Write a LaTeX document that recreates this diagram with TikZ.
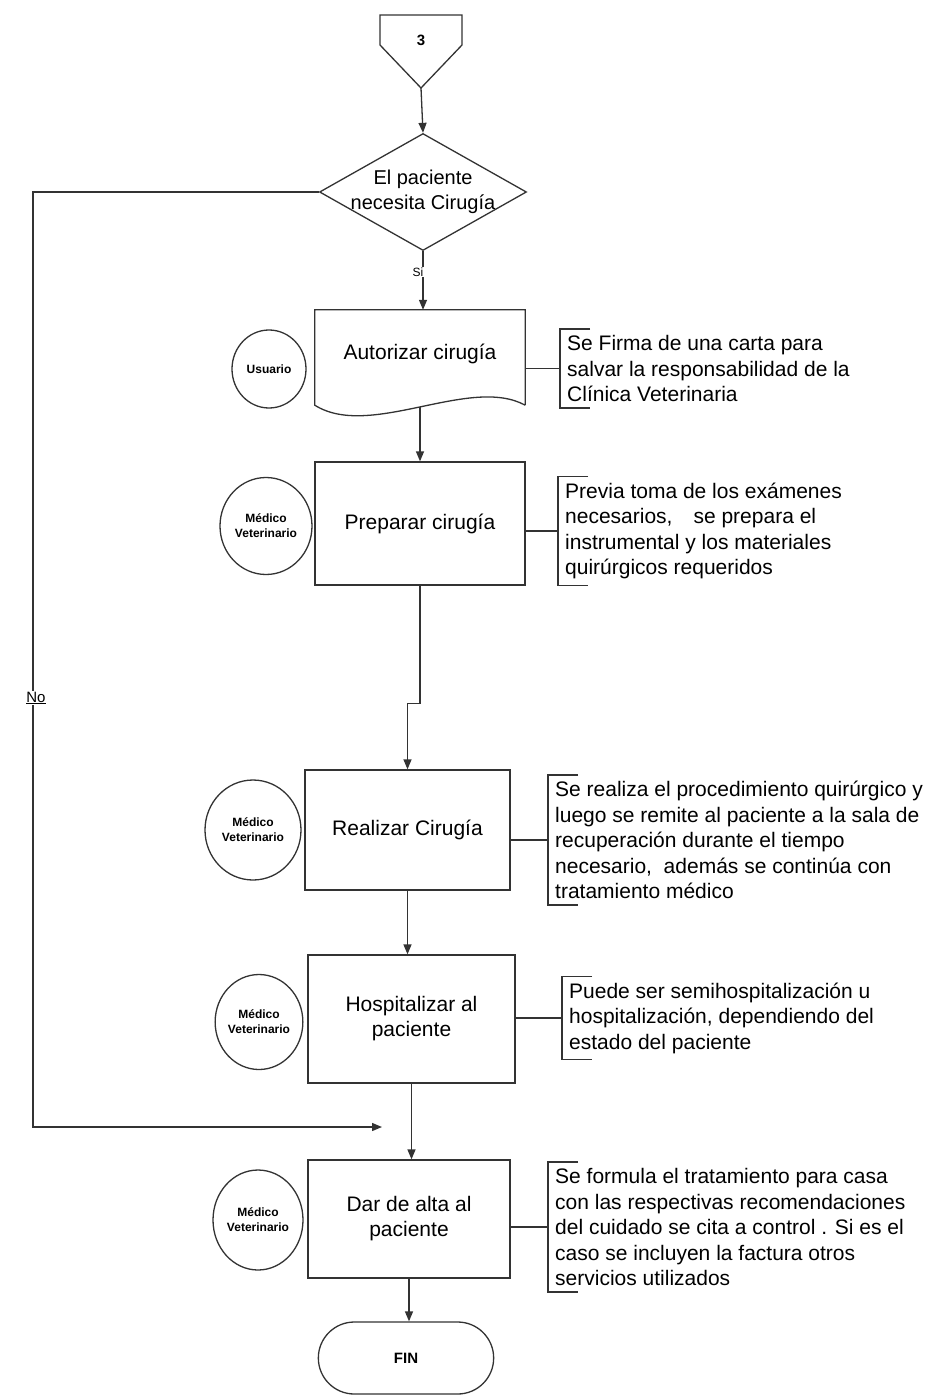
\documentclass[tikz,border=0pt]{standalone}
\usepackage{fontspec}
\setmainfont{Liberation Sans}
\usetikzlibrary{shapes.geometric,shapes.misc,arrows.meta}
\begin{document}
\begin{tikzpicture}[x=1pt,y=-1pt,
  line/.style={draw=black!80, line width=1.3pt},
  arr/.style={line, -{Triangle[length=10pt,width=8pt]}},
  proc/.style={rectangle, draw=black!80, line width=1.3pt, font=\fontsize{21}{25}\selectfont, align=center, inner sep=2pt},
  actor/.style={ellipse, draw=black!80, line width=1.3pt, font=\bfseries\fontsize{12}{15}\selectfont, align=center, inner sep=0pt},
  note/.style={font=\fontsize{21}{25.5}\selectfont, align=left, anchor=west, inner xsep=7pt, inner ysep=6pt},
  lbl/.style={fill=white, inner sep=1pt}]
\fill[white] (0,0) rectangle (941,1397);
\useasboundingbox (0,0) rectangle (941,1397);

% off-page connector
\draw[line] (380,15) -- (462,15) -- (462,45) -- (421,88) -- (380,45) -- cycle;
\node[font=\bfseries\fontsize{15}{15}\selectfont] (c3) at (421,40) {3};
\coordinate (c3tip) at (421,88);

% decision
\node[diamond, line, minimum width=207pt, minimum height=117pt, inner sep=0pt] (dec) at (423,192) {};
\node[font=\fontsize{20}{25}\selectfont, align=center] (dectext) at (dec.center) {El paciente\\necesita Cirugía};

% document shape
\node[minimum width=210pt, minimum height=95pt, inner sep=0pt] (auth) at (420,357.5) {};
\draw[line] (auth.south east) -- (auth.north east) -- (auth.north west) -- (auth.south west)
  .. controls (370,440) and (470,375) .. (auth.south east);
\node[font=\fontsize{21}{25}\selectfont] (authtext) at (420,354) {Autorizar cirugía};
\coordinate (authB) at (420,407);

% processes
\node[proc, minimum width=210pt, minimum height=123pt] (prep) at (420,523.5) {Preparar cirugía};
\node[proc, minimum width=205pt, minimum height=120pt] (real) at (407.5,830) {Realizar Cirugía};
\node[proc, minimum width=207pt, minimum height=128pt] (hosp) at (411.5,1019) {Hospitalizar al\\paciente};
\node[proc, minimum width=202pt, minimum height=118pt] (dar) at (409,1219) {Dar de alta al\\paciente};
\node[rounded rectangle, line, minimum width=182pt, minimum height=72pt, font=\bfseries\fontsize{15}{15}\selectfont] (fin) at (406,1358) {FIN};

% actors
\node[actor, minimum width=74pt, minimum height=78pt] (a1) at (269,369) {Usuario};
\node[actor, minimum width=92pt, minimum height=97pt] (a2) at (266,526) {Médico\\Veterinario};
\node[actor, minimum width=96pt, minimum height=100pt] (a3) at (253,830) {Médico\\Veterinario};
\node[actor, minimum width=86pt, minimum height=95pt] (a4) at (259,1022) {Médico\\Veterinario};
\node[actor, minimum width=90pt, minimum height=100pt] (a5) at (258,1220) {Médico\\Veterinario};

% notes
\node[note] (n1) at (560,368.5) {Se Firma de una carta para\\salvar la responsabilidad de la\\Clínica Veterinaria};
\node[note] (n2) at (558,531) {Previa toma de los exámenes\\necesarios,\quad se prepara el\\instrumental y los materiales\\quirúrgicos requeridos};
\node[note] (n3) at (548,840) {Se realiza el procedimiento quirúrgico y\\luego se remite al paciente a la sala de\\recuperación durante el tiempo\\necesario,\ \ además se continúa con\\tratamiento médico};
\node[note] (n4) at (562,1018) {Puede ser semihospitalización u\\hospitalización, dependiendo del\\estado del paciente};
\node[note] (n5) at (548,1227) {Se formula el tratamiento para casa\\con las respectivas recomendaciones\\del cuidado se cita a control . Si es el\\caso se incluyen la factura otros\\servicios utilizados};
\foreach \n in {n1,n2,n3,n4,n5}
  \draw[line] ([xshift=30pt]\n.north west) -- (\n.north west) -- (\n.south west) -- ([xshift=30pt]\n.south west);

% note connectors
\draw[line] (auth.east |- n1.west) -- (n1.west);
\draw[line] (prep.east |- n2.west) -- (n2.west);
\draw[line] (real.east |- n3.west) -- (n3.west);
\draw[line] (hosp.east |- n4.west) -- (n4.west);
\draw[line] (dar.east |- n5.west) -- (n5.west);

% flow
\draw[arr] (c3tip) -- (dec.north);
\draw[arr] (dec.south) -- (dec.south |- auth.north);
\node[lbl, font=\fontsize{12}{12}\selectfont] (si) at (418,272) {Si};
\draw[arr] (authB) -- (authB |- prep.north);
\draw[arr] (prep.south) -- ++(0,118) -| (real.north);
\draw[arr] (real.south) -- (real.south |- hosp.north);
\draw[arr] (hosp.south) -- (hosp.south |- dar.north);
\draw[arr] (dar.south) -- (dar.south |- fin.north);

% "No" branch
\coordinate (nojoin) at (382,1127);
\draw[arr] (dec.west) -- (33,192) -- (33,1127) -- (nojoin);
\node[lbl, font=\fontsize{15}{15}\selectfont] (no) at (36,698) {\underline{No}};
\end{tikzpicture}
\end{document}
